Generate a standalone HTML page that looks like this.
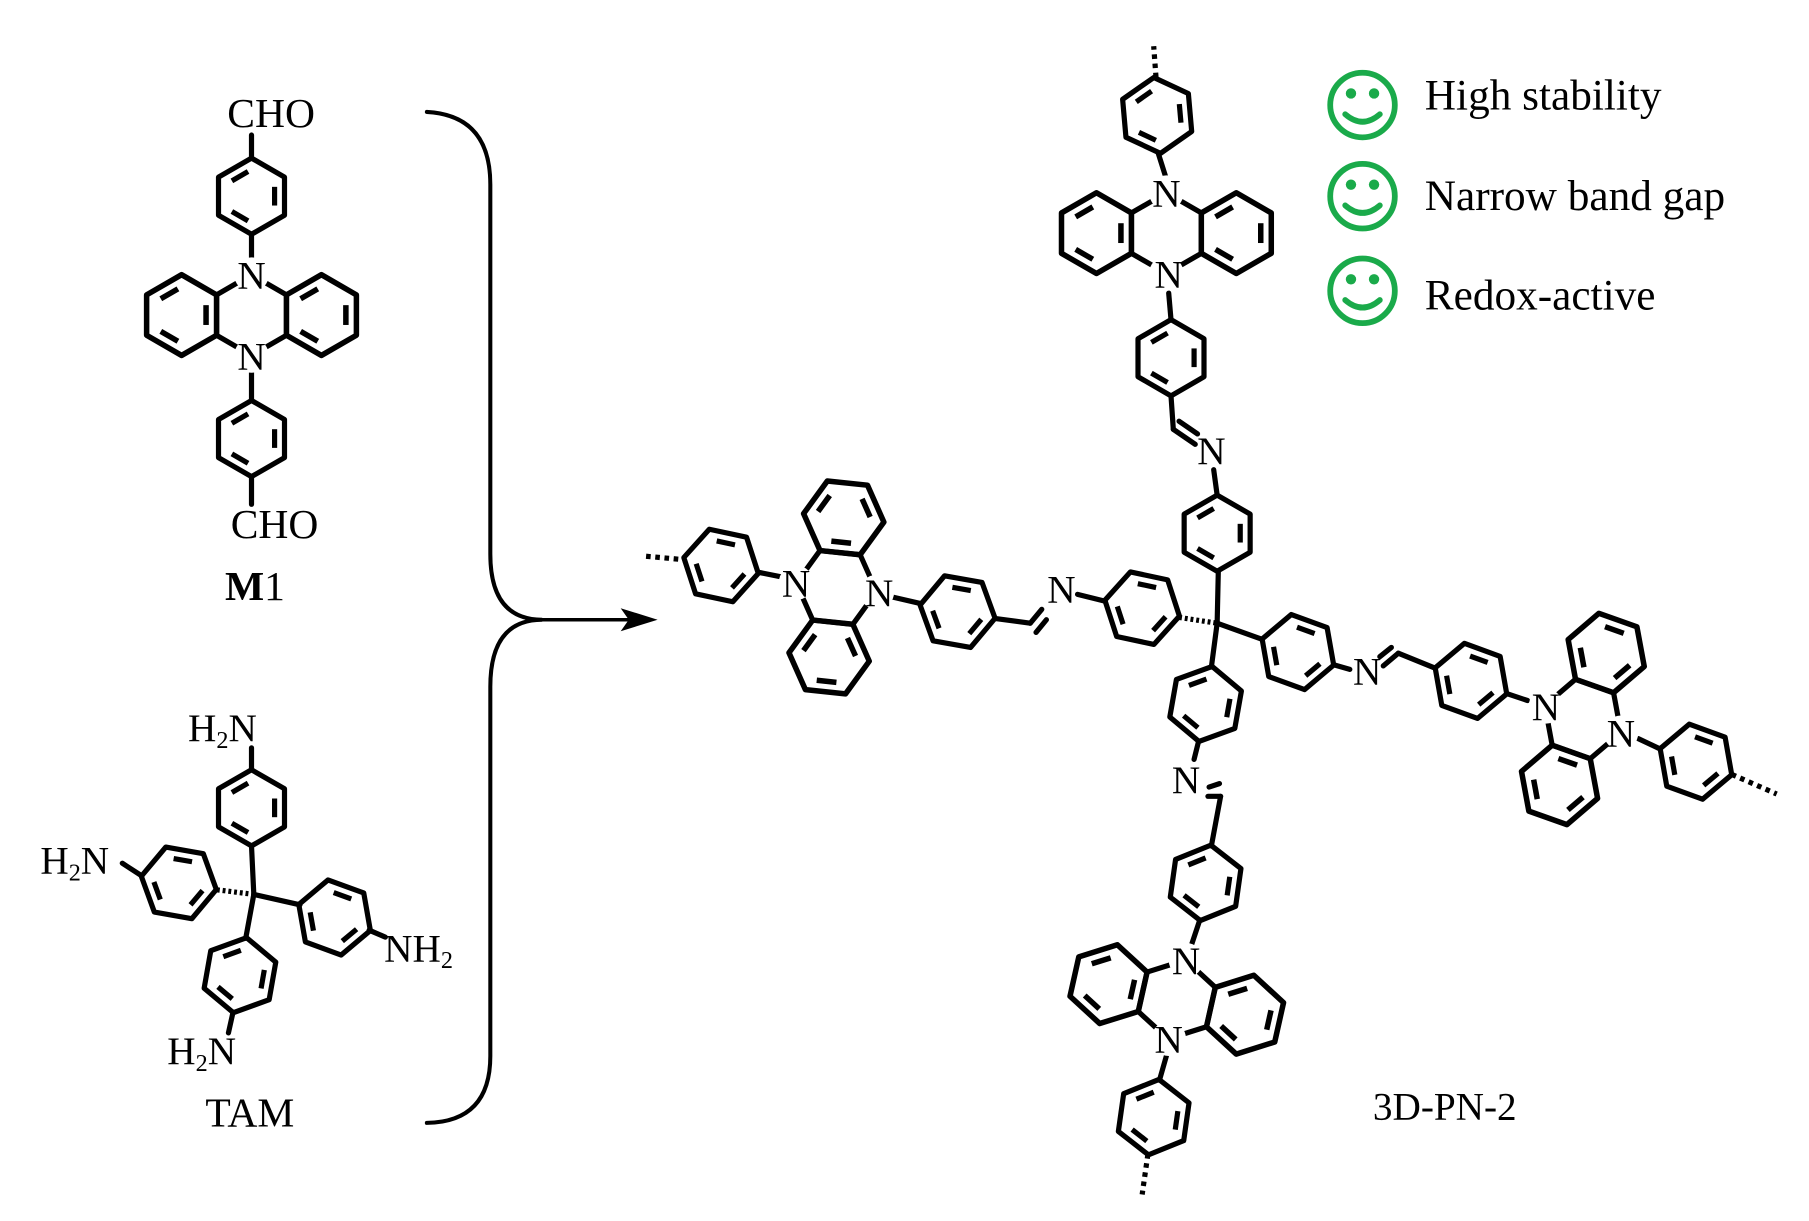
<!DOCTYPE html>
<html><head><meta charset="utf-8"><style>
html,body{margin:0;padding:0;background:#fff;}
svg{display:block;}
text{font-family:"Liberation Serif",serif;fill:#000;}
</style></head><body>
<svg width="1809" height="1221" viewBox="0 0 1568 1058" preserveAspectRatio="none" xmlns="http://www.w3.org/2000/svg">
<defs>
<g id="bz" fill="none" stroke="#000" stroke-width="4.5" stroke-linejoin="round">
<polygon points="33,0 16.5,28.6 -16.5,28.6 -33,0 -16.5,-28.6 16.5,-28.6"/>
<line x1="21.4" y1="3" x2="13.3" y2="17"/>
<line x1="-13.3" y1="17" x2="-21.4" y2="3"/>
<line x1="-8.1" y1="-20" x2="8.1" y2="-20"/>
</g>
<g id="phz" fill="none" stroke="#000" stroke-width="4.5" stroke-linejoin="round">
<polygon points="0,-35 30.3,-17.5 30.3,17.5 0,35 -30.3,17.5 -30.3,-17.5"/>
<use href="#bz" transform="translate(-60.6,0) rotate(90) scale(1.06)"/>
<use href="#bz" transform="translate(60.6,0) rotate(90) scale(1.06)"/>
</g>
</defs>
<g fill="none" stroke="#000" stroke-width="4.5" stroke-linecap="round">
<path d="M370,97 Q425,100 425,160 L425,480 Q425,537 470,537 Q425,537 425,595 L425,915 Q425,972 370,973" stroke-width="3.5"/>
<line x1="470" y1="537" x2="545" y2="537" stroke-width="3"/>
<line x1="218" y1="117" x2="218" y2="137"/>
<line x1="218" y1="203" x2="218" y2="225"/>
<line x1="218" y1="320" x2="218" y2="347"/>
<line x1="218" y1="413" x2="218" y2="437"/>
<line x1="220" y1="775" x2="218" y2="733"/>
<line x1="218" y1="667" x2="218" y2="648"/>
<line x1="220" y1="775" x2="260" y2="784"/>
<line x1="320" y1="806" x2="334" y2="812"/>
<line x1="220" y1="775" x2="213" y2="813"/>
<line x1="202" y1="877" x2="198" y2="895"/>
<line x1="123" y1="759" x2="106" y2="748"/>
<line x1="188" y1="771" x2="220" y2="775" stroke-dasharray="2.5 2.5" stroke-linecap="butt"/>
<line x1="560" y1="482" x2="593" y2="485" stroke-dasharray="4 4" stroke-linecap="butt"/>
<line x1="658" y1="496" x2="678" y2="500"/>
<line x1="772" y1="517" x2="798" y2="523"/>
<line x1="863" y1="536" x2="893" y2="540"/>
<line x1="893" y1="540" x2="903" y2="528"/>
<line x1="898" y1="548" x2="907" y2="537"/>
<line x1="934" y1="515" x2="958" y2="521"/>
<line x1="1022" y1="535" x2="1055" y2="540" stroke-dasharray="2.5 2.5" stroke-linecap="butt"/>
<line x1="1055" y1="540" x2="1056" y2="495"/>
<line x1="1055" y1="429" x2="1052" y2="407"/>
<line x1="1017" y1="372" x2="1036" y2="385"/>
<line x1="1022" y1="365" x2="1038" y2="376"/>
<line x1="1017" y1="372" x2="1015" y2="343"/>
<line x1="1015" y1="277" x2="1013" y2="254"/>
<line x1="1010" y1="152" x2="1004" y2="133"/>
<line x1="1002" y1="67" x2="1000" y2="40" stroke-dasharray="4 4" stroke-linecap="butt"/>
<line x1="1055" y1="540" x2="1094" y2="554"/>
<line x1="1156" y1="576" x2="1170" y2="580"/>
<line x1="1199" y1="577" x2="1212" y2="566"/>
<line x1="1196" y1="569" x2="1206" y2="561"/>
<line x1="1212" y1="566" x2="1244" y2="579"/>
<line x1="1306" y1="601" x2="1324" y2="607"/>
<line x1="1420" y1="640" x2="1439" y2="649"/>
<line x1="1501" y1="671" x2="1540" y2="688" stroke-dasharray="4 4" stroke-linecap="butt"/>
<line x1="1055" y1="540" x2="1050" y2="578"/>
<line x1="1039" y1="642" x2="1035" y2="658"/>
<line x1="1047" y1="690" x2="1058" y2="690"/>
<line x1="1048" y1="682" x2="1057" y2="679"/>
<line x1="1058" y1="690" x2="1050" y2="733"/>
<line x1="1040" y1="797" x2="1033" y2="818"/>
<line x1="1011" y1="915" x2="1005" y2="936"/>
<line x1="995" y1="1000" x2="990" y2="1035" stroke-dasharray="4 4" stroke-linecap="butt"/>
</g>
<polygon points="570,537 538,527 545,537 538,547" fill="#000"/>
<use href="#bz" transform="translate(218,170) rotate(90)"/>
<use href="#phz" transform="translate(218,273)"/>
<use href="#bz" transform="translate(218,380) rotate(90)"/>
<use href="#bz" transform="translate(218,700) rotate(90)"/>
<use href="#bz" transform="translate(155,765) rotate(10)"/>
<use href="#bz" transform="translate(290,795) rotate(20)"/>
<use href="#bz" transform="translate(208,845) rotate(100)"/>
<use href="#bz" transform="translate(625,490) rotate(12)"/>
<use href="#phz" transform="translate(725,509) rotate(96)"/>
<use href="#bz" transform="translate(830,530) rotate(10)"/>
<use href="#bz" transform="translate(990,527) rotate(12)"/>
<use href="#bz" transform="translate(1055,462) rotate(90)"/>
<use href="#bz" transform="translate(1015,310) rotate(90)"/>
<use href="#phz" transform="translate(1011,202)"/>
<use href="#bz" transform="translate(1003,100) rotate(85)"/>
<use href="#bz" transform="translate(1125,565) rotate(20)"/>
<use href="#bz" transform="translate(1275,590) rotate(20)"/>
<use href="#phz" transform="translate(1372,623) rotate(-70.5)"/>
<use href="#bz" transform="translate(1470,660) rotate(20)"/>
<use href="#bz" transform="translate(1045,610) rotate(100)"/>
<use href="#bz" transform="translate(1045,765) rotate(98)"/>
<use href="#phz" transform="translate(1020,866) rotate(12.6)"/>
<use href="#bz" transform="translate(1000,968) rotate(98)"/>
<g fill="#fff">
<circle cx="218" cy="238" r="15"/><circle cx="218" cy="308" r="15"/>
<circle cx="1011" cy="167" r="15"/><circle cx="1011" cy="237" r="15"/>
<circle cx="690" cy="505" r="15"/><circle cx="760" cy="513" r="15"/>
<circle cx="1340" cy="612" r="15"/><circle cx="1405" cy="635" r="15"/>
<circle cx="1028" cy="832" r="15"/><circle cx="1013" cy="900" r="15"/>
</g>
<g font-size="34" text-anchor="middle">
<text x="218" y="250">N</text><text x="218" y="320">N</text>
<text x="1011" y="179">N</text><text x="1013" y="249">N</text>
<text x="690" y="517">N</text><text x="762" y="525">N</text>
<text x="920" y="522">N</text><text x="1050" y="402">N</text>
<text x="1185" y="593">N</text><text x="1340" y="624">N</text>
<text x="1405" y="647">N</text><text x="1028" y="687">N</text>
<text x="1028" y="844">N</text><text x="1013" y="912">N</text>
</g>
<g font-size="36">
<text x="197" y="110">CHO</text>
<text x="200" y="466">CHO</text>
<text x="195" y="520"><tspan font-weight="bold">M</tspan>1</text>
<text x="178" y="976">TAM</text>
<text x="163" y="642" font-size="34">H<tspan font-size="21" dy="6">2</tspan><tspan dy="-6">N</tspan></text>
<text x="35" y="757" font-size="34">H<tspan font-size="21" dy="6">2</tspan><tspan dy="-6">N</tspan></text>
<text x="333" y="833" font-size="34">NH<tspan font-size="21" dy="6">2</tspan></text>
<text x="145" y="922" font-size="34">H<tspan font-size="21" dy="6">2</tspan><tspan dy="-6">N</tspan></text>
<text x="1190" y="970" font-size="34">3D-PN-2</text>
<text x="1235" y="95" font-size="37.5">High stability</text>
<text x="1235" y="182" font-size="37.5">Narrow band gap</text>
<text x="1235" y="268" font-size="37.5">Redox-active</text>
</g>
<g fill="none" stroke="#1aaa4a" stroke-width="5">
<circle cx="1181" cy="91" r="28"/><circle cx="1181" cy="170" r="28"/><circle cx="1181" cy="252" r="28"/>
<path d="M1166,99 Q1181,112 1196,99" stroke-linecap="round"/>
<path d="M1166,178 Q1181,191 1196,178" stroke-linecap="round"/>
<path d="M1166,260 Q1181,273 1196,260" stroke-linecap="round"/>
</g>
<g fill="#1aaa4a">
<circle cx="1171" cy="81" r="4.5"/><circle cx="1191" cy="81" r="4.5"/>
<circle cx="1171" cy="160" r="4.5"/><circle cx="1191" cy="160" r="4.5"/>
<circle cx="1171" cy="242" r="4.5"/><circle cx="1191" cy="242" r="4.5"/>
</g>
</svg>
</body></html>
